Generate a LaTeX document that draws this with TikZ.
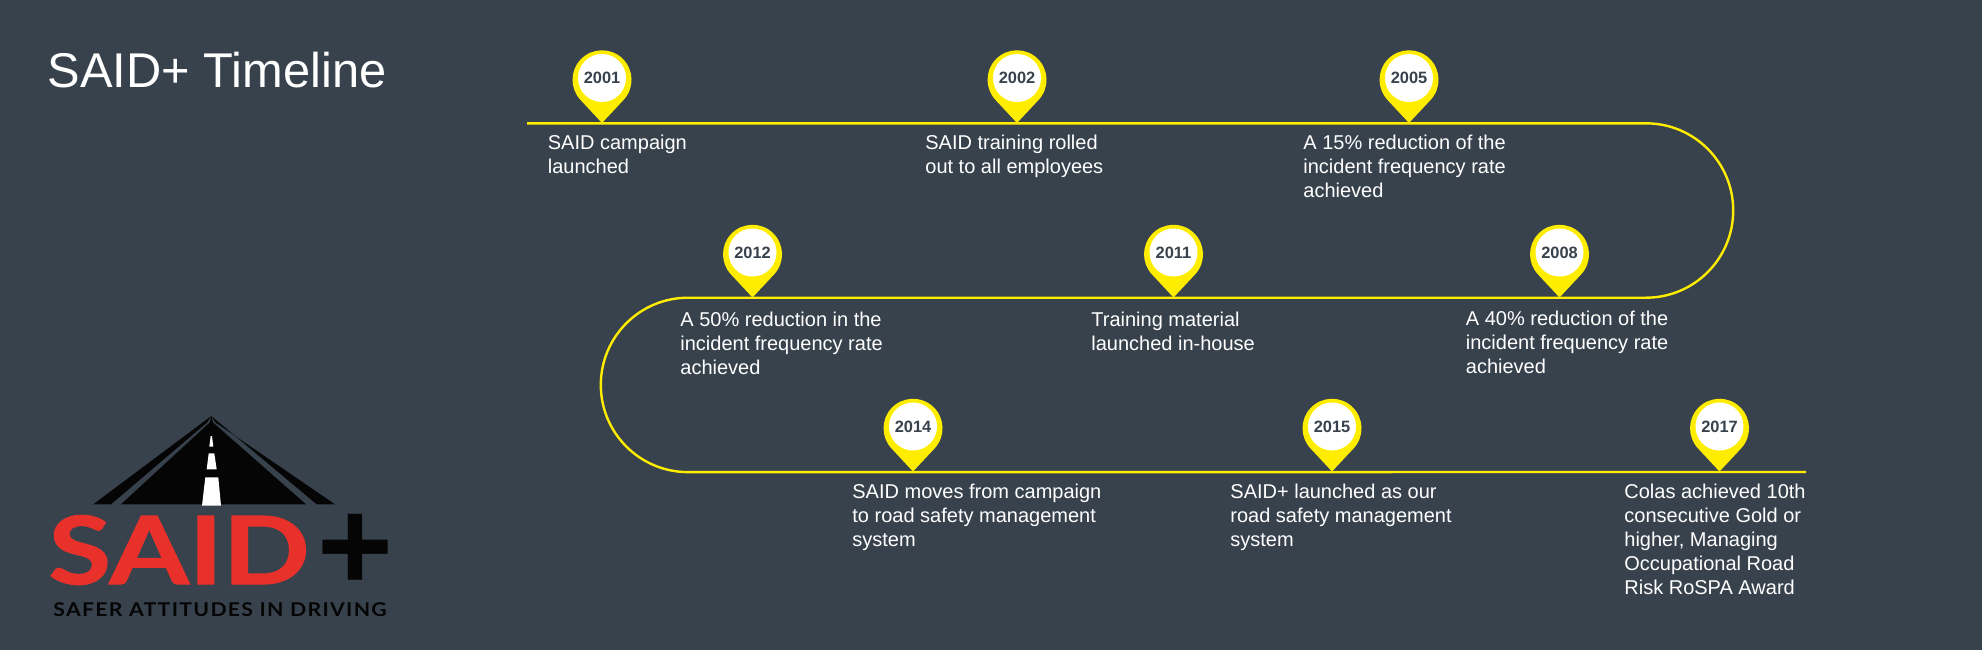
\documentclass[tikz,border=0pt]{standalone}
\usepackage{fontspec}
\setmainfont{Liberation Sans}
\newfontfamily\logofont[FakeBold=1.2]{Lato}
\newfontfamily\tagfont[LetterSpace=6]{Lato}
\definecolor{bgc}{HTML}{38424D}
\definecolor{ylw}{HTML}{FFED00}
\definecolor{logored}{HTML}{E8312A}
\definecolor{logoblk}{HTML}{050505}
\tikzset{
  x=0.5pt,y=0.5pt,
  trackline/.style={draw=ylw,line width=1.2pt},
  pinbody/.style={fill=ylw},
  pinface/.style={circle,fill=white,minimum size=24pt,inner sep=0pt,text=bgc,font=\fontsize{8.2}{8}\selectfont\bfseries},
  desc/.style={anchor=north west,inner sep=0pt,align=left,text=white,font=\fontsize{10}{12}\selectfont},
  logopart/.style={fill=logoblk},
  dash stripe/.style={fill=white}
}
\newcommand{\timepin}[4]{% name, x, line y, year
  \fill[pinbody] (#2,-#3)++(0,-0.5) -- ++(21.5,23) arc[start angle=-43.3,end angle=223.3,radius=14.75pt] -- cycle;
  \node[pinface] (#1) at (#2,-#3+44.5) {#4};
}
\newcommand{\desctext}[4]{\node[desc] (#1) at (#2,-#3+16) {\rule{0pt}{8pt}#4};}
\begin{document}
\begin{tikzpicture}
\fill[bgc] (0,0) rectangle (1982,-650);
\node[anchor=base west,inner sep=0pt,text=white,font=\fontsize{24.4}{28}\selectfont] (title) at (47.5,-87) {SAID+ Timeline};
% track
\coordinate (start) at (527,-123.3);
\coordinate (r1) at (1646,-123.3);
\coordinate (r2) at (1646,-297.7);
\coordinate (l2) at (688,-297.7);
\coordinate (l3) at (688,-472);
\coordinate (end) at (1806,-472);
\draw[trackline] (start) -- (r1) arc[start angle=90,end angle=-90,radius=43.6pt] -- (l2) arc[start angle=90,end angle=270,radius=43.6pt] -- (end);
% pins
\timepin{p2001}{602}{122.5}{2001}
\timepin{p2002}{1017}{122.5}{2002}
\timepin{p2005}{1409}{122.5}{2005}
\timepin{p2012}{752.5}{297}{2012}
\timepin{p2011}{1173.5}{297}{2011}
\timepin{p2008}{1559.5}{297}{2008}
\timepin{p2014}{913}{471}{2014}
\timepin{p2015}{1332}{471}{2015}
\timepin{p2017}{1719.5}{471}{2017}
% text
\desctext{t2001}{547.5}{149}{SAID campaign\\launched}
\desctext{t2002}{925}{149}{SAID training rolled\\out to all employees}
\desctext{t2005}{1303}{149}{A 15\% reduction of the\\incident frequency rate\\achieved}
\desctext{t2012}{680}{326.5}{A 50\% reduction in the\\incident frequency rate\\achieved}
\desctext{t2011}{1091}{326.5}{Training material\\launched in-house}
\desctext{t2008}{1465.5}{325}{A 40\% reduction of the\\incident frequency rate\\achieved}
\desctext{t2014}{852}{498}{SAID moves from campaign\\to road safety management\\system}
\desctext{t2015}{1230}{498}{SAID+ launched as our\\road safety management\\system}
\desctext{t2017}{1624}{498}{Colas achieved 10th\\consecutive Gold or\\higher, Managing\\Occupational Road\\Risk RoSPA Award}
% logo
\fill[logopart] (93.3,-504.3) -- (111,-504.3) -- (207,-422.5) -- (211.3,-416) -- cycle;
\fill[logopart] (121,-504.3) -- (306,-504.3) -- (213,-422.5) -- (211.3,-416) -- (209.7,-422.5) -- cycle;
\fill[logopart] (316.7,-504.3) -- (335,-504.3) -- (215.5,-422.5) -- (211.3,-416) -- cycle;
\fill[dash stripe] (202,-505.7) -- (221,-505.7) -- (218.3,-477.3) -- (205.3,-477.3) -- cycle;
\fill[dash stripe] (206.7,-469.3) -- (216.7,-469.3) -- (214.3,-453.3) -- (208.7,-453.3) -- cycle;
\fill[dash stripe] (209.3,-446.7) -- (213.3,-446.7) -- (212,-436) -- (210.7,-436) -- cycle;
\node[anchor=base west,inner sep=0pt,text=logored,xscale=1.215,transform shape,font=\logofont\fontsize{47}{47}\selectfont\bfseries] (said) at (48,-584) {SAID};
\node[anchor=center,inner sep=0pt,text=logoblk,font=\fontsize{65}{65}\selectfont\bfseries] (plus) at (355,-552) {+};
\node[anchor=base west,inner sep=0pt,text=logoblk,xscale=1.12,transform shape,font=\tagfont\fontsize{9.5}{10}\selectfont\bfseries] (tag) at (53,-616) {SAFER ATTITUDES IN DRIVING};
\end{tikzpicture}
\end{document}
